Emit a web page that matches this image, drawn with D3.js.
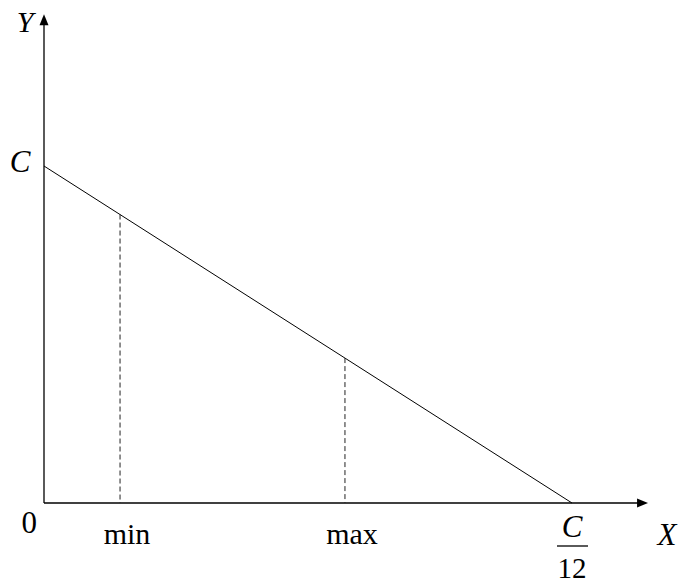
<!DOCTYPE html>
<html>
<head>
<meta charset="utf-8">
<script src="https://cdn.jsdelivr.net/npm/d3@7.9.0/dist/d3.min.js"></script>
<style>
  body { margin: 0; background: #fff; }
  text { font-family: "Liberation Serif", "Times New Roman", serif; fill: #000; }
  .it { font-style: italic; }
</style>
</head>
<body>
<svg id="chart" width="681" height="585"></svg>
<script>
// C in units so that the x intercept C/12 equals 1
const C = 12;
const lineX = [0, C / 12];
const lineY = [C, 0];
const markX = [0.144, 0.57];
const markLabels = ['min', 'max'];
const axisEnd = { x: 1.144, y: 17.4 };

const svg = d3.select('#chart');

const x = d3.scaleLinear().domain([0, 1]).range([44, 572]);
const y = d3.scaleLinear().domain([0, C]).range([503, 166]);

const lineFn = (v) => C - 12 * v;

// axes
svg.append('line')
  .attr('x1', x(0)).attr('y1', y(0))
  .attr('x2', x(axisEnd.x) - 8).attr('y2', y(0))
  .attr('stroke', '#000').attr('stroke-width', 1.3);
svg.append('line')
  .attr('x1', x(0)).attr('y1', y(0))
  .attr('x2', x(0)).attr('y2', y(axisEnd.y) + 8)
  .attr('stroke', '#000').attr('stroke-width', 1.3);

// arrow heads
const ax = x(axisEnd.x), ay = y(0);
svg.append('path')
  .attr('d', `M${ax},${ay} L${ax - 11},${ay - 4.5} L${ax - 11},${ay + 4.5} Z`)
  .attr('fill', '#000');
const bx = x(0), by = y(axisEnd.y);
svg.append('path')
  .attr('d', `M${bx},${by} L${bx - 4.5},${by + 11} L${bx + 4.5},${by + 11} Z`)
  .attr('fill', '#000');

// main line
svg.append('line')
  .attr('x1', x(lineX[0])).attr('y1', y(lineY[0]))
  .attr('x2', x(lineX[1])).attr('y2', y(lineY[1]))
  .attr('stroke', '#000').attr('stroke-width', 1);

// dashed drops
markX.forEach((v, i) => {
  svg.append('line')
    .attr('x1', x(v)).attr('y1', y(lineFn(v)))
    .attr('x2', x(v)).attr('y2', y(0))
    .attr('stroke', '#222').attr('stroke-width', 1)
    .attr('stroke-dasharray', '5,3');
  svg.append('text')
    .attr('x', x(v) + 7).attr('y', 544)
    .attr('text-anchor', 'middle')
    .attr('font-size', 30)
    .text(markLabels[i]);
});

// labels
svg.append('text').attr('x', 37).attr('y', 533)
  .attr('text-anchor', 'end').attr('font-size', 31).text('0');
svg.append('text').attr('class', 'it').attr('x', 25).attr('y', 32)
  .attr('text-anchor', 'middle').attr('font-size', 30).text('Y');
svg.append('text').attr('class', 'it').attr('x', 20).attr('y', 172)
  .attr('text-anchor', 'middle').attr('font-size', 31).text('C');
svg.append('text').attr('class', 'it').attr('x', 667).attr('y', 545)
  .attr('text-anchor', 'middle').attr('font-size', 31).text('X');

// C/12 fraction
const fx = x(lineX[1]);
svg.append('text').attr('class', 'it').attr('x', fx).attr('y', 537)
  .attr('text-anchor', 'middle').attr('font-size', 31).text('C');
svg.append('line')
  .attr('x1', fx - 15).attr('x2', fx + 16)
  .attr('y1', 546).attr('y2', 546)
  .attr('stroke', '#000').attr('stroke-width', 1.3);
svg.append('text').attr('x', fx).attr('y', 578)
  .attr('text-anchor', 'middle').attr('font-size', 29).text('12');
</script>
</body>
</html>
